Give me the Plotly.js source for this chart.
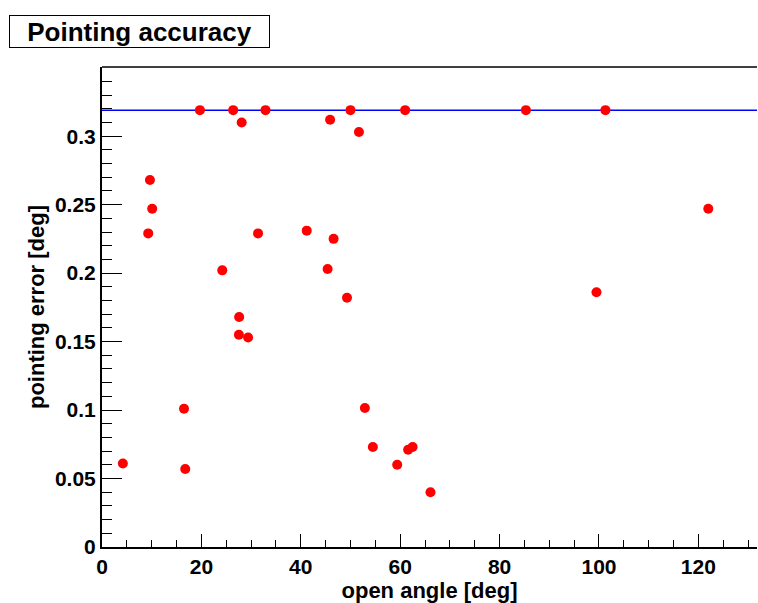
<!DOCTYPE html>
<html>
<head>
<meta charset="utf-8">
<script src="https://cdn.plot.ly/plotly-3.0.1.min.js"></script>
<style>html,body{margin:0;padding:0;background:#fff;}#chart{width:758px;height:603px;}</style>
</head>
<body>
<div id="chart"></div>
<script>
// open angle [deg]
var openAngle = [4.2, 16.75, 16.5, 9.3, 9.65, 10.1, 19.7, 24.2, 26.4, 28.1, 27.6, 27.55, 29.4, 31.4, 32.9,
  41.2, 45.9, 45.4, 46.6, 49.3, 50.0, 51.7, 52.9, 54.5, 59.4, 61.0, 61.6, 62.5, 66.1, 85.3, 99.5, 101.3, 122.0];
// pointing error [deg]
var pointingError = [0.061, 0.057, 0.101, 0.229, 0.268, 0.247, 0.319, 0.202, 0.319, 0.310, 0.168, 0.155, 0.153, 0.229, 0.319,
  0.231, 0.312, 0.203, 0.225, 0.182, 0.319, 0.303, 0.1015, 0.073, 0.060, 0.319, 0.071, 0.073, 0.040, 0.319, 0.186, 0.319, 0.247];
// horizontal reference line
var refX = [0, 131.8];
var refY = [0.319, 0.319];
// tick labels
var xTicks = [0, 20, 40, 60, 80, 100, 120];
var yTicks = [0, 0.05, 0.1, 0.15, 0.2, 0.25, 0.3];
var yTickText = ['0', '0.05', '0.1', '0.15', '0.2', '0.25', '0.3'];

var fam = 'Liberation Sans, Arial, sans-serif';

var traces = [
  {x: refX, y: refY, mode: 'lines', line: {color: '#0000ff', width: 1.5}, hoverinfo: 'skip'},
  {x: openAngle, y: pointingError, mode: 'markers', marker: {color: '#ff0000', size: 10}}
];

var layout = {
  width: 758, height: 603,
  margin: {l: 102, r: 1, t: 67, b: 56},
  paper_bgcolor: '#fff', plot_bgcolor: '#fff',
  showlegend: false,
  font: {family: fam, color: '#000'},
  xaxis: {
    range: [0, 131.8], showgrid: false, zeroline: false,
    showline: true, linecolor: '#000', linewidth: 2,
    ticks: 'inside', ticklen: 13, tickwidth: 1, tickcolor: '#000',
    tickmode: 'array', tickvals: xTicks,
    minor: {ticks: 'inside', ticklen: 7, dtick: 5, tick0: 0, tickcolor: '#000', tickwidth: 1},
    tickfont: {family: fam, size: 21, weight: 'bold', color: '#000'},
    title: {text: 'open angle [deg]', font: {family: fam, size: 22, weight: 'bold', color: '#000'}, standoff: 11}
  },
  yaxis: {
    range: [0, 0.3505], showgrid: false, zeroline: false,
    showline: true, linecolor: '#000', linewidth: 2,
    ticks: 'inside', ticklen: 20, tickwidth: 1, tickcolor: '#000',
    tickmode: 'array', tickvals: yTicks, ticktext: yTickText,
    minor: {ticks: 'inside', ticklen: 10, dtick: 0.01, tick0: 0, tickcolor: '#000', tickwidth: 1},
    tickfont: {family: fam, size: 21, weight: 'bold', color: '#000'},
    title: {text: 'pointing error [deg]', font: {family: fam, size: 22, weight: 'bold', color: '#000'}, standoff: 4}
  },
  shapes: [
    {type: 'line', xref: 'paper', yref: 'paper', x0: 0, x1: 1, y0: 1, y1: 1, line: {color: '#000', width: 1.5}}
  ],
  annotations: [
    {text: 'Pointing accuracy', xref: 'paper', yref: 'paper',
     x: (9 - 102) / 655, y: 1 + (67 - 15) / 480, xanchor: 'left', yanchor: 'top',
     showarrow: false, width: 259, height: 31, align: 'center',
     bordercolor: '#000', borderwidth: 1, borderpad: 0, bgcolor: '#fff',
     font: {family: fam, size: 26, weight: 'bold', color: '#000'}}
  ]
};

Plotly.newPlot('chart', traces, layout, {displayModeBar: false, staticPlot: true});
</script>
</body>
</html>
